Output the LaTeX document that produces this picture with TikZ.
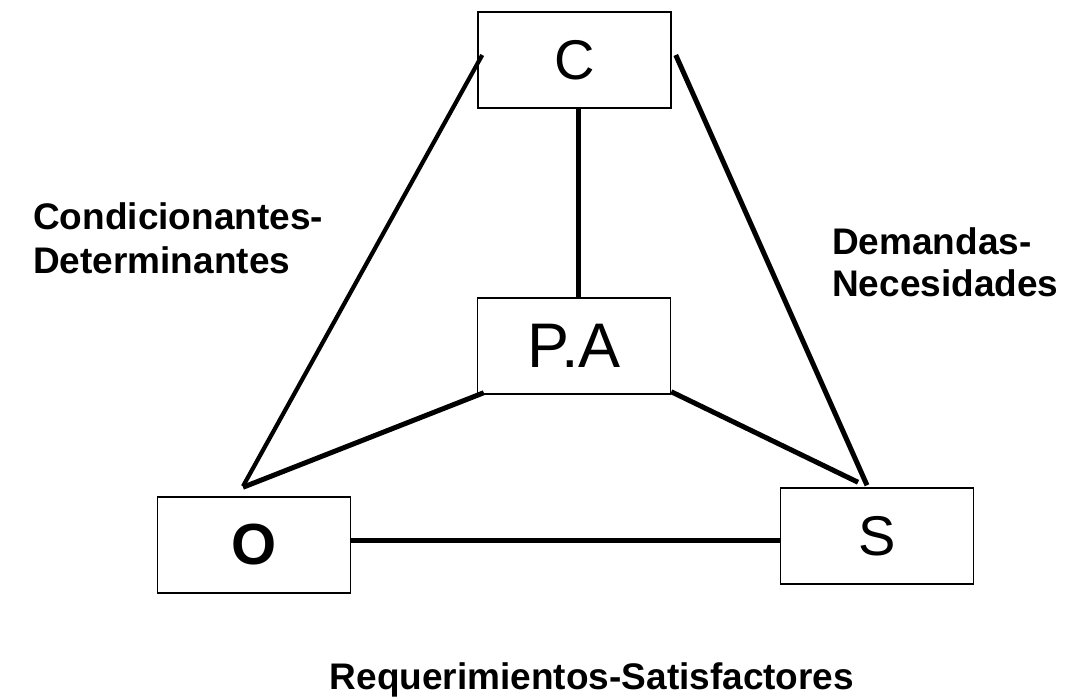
\documentclass[tikz,border=0pt]{standalone}
\usepackage{fontspec}
\setmainfont{Liberation Sans}
\tikzset{
  caja/.style={draw, line width=1.5pt, minimum width=193pt, minimum height=96pt,
    inner sep=0pt, fill=white},
  enlace/.style={line width=5pt},
  etiqueta/.style={font=\bfseries\fontsize{37}{44}\selectfont, align=left, inner sep=0pt}
}
\begin{document}
\begin{tikzpicture}[x=1pt,y=-1pt]
\useasboundingbox (0,0) rectangle (1075,698);
% cajas
\node[caja, font=\fontsize{56}{60}\selectfont] (C) at (574.5,60) {C};
\node[caja, font=\fontsize{63}{70}\selectfont] (PA) at (574,346) {P.A};
\node[caja, font=\bfseries\fontsize{58}{64}\selectfont] (O) at (254,545) {O};
\node[caja, font=\fontsize{56}{60}\selectfont] (S) at (877,536) {S};
% enlaces
\draw[enlace] ([xshift=3.5pt]C.south) -- ([xshift=4pt]PA.north);
\draw[enlace, line width=4.2pt] ([shift={(5,-5)}]C.west) -- ([shift={(-11,-10)}]O.north);
\draw[enlace] ([shift={(4,-5)}]C.east) -- ([shift={(-10,-2)}]S.north);
\draw[enlace] ([shift={(7,-2)}]PA.south west) -- ([shift={(-11,-9)}]O.north);
\draw[enlace] ([shift={(0,-3)}]PA.south east) -- ([shift={(-19,-5)}]S.north);
\draw[enlace] ([shift={(0,-5)}]O.east) -- ([shift={(0,4)}]S.west);
% etiquetas
\node[etiqueta, anchor=base west] (cd) at (33,273) {Condicionantes-\\Determinantes};
\node[etiqueta, anchor=base west, font=\bfseries\fontsize{37}{42}\selectfont] (dn) at (832,296) {Demandas-\\Necesidades};
\node[etiqueta, anchor=base] (rs) at (592,689) {Requerimientos-Satisfactores};
\end{tikzpicture}
\end{document}
